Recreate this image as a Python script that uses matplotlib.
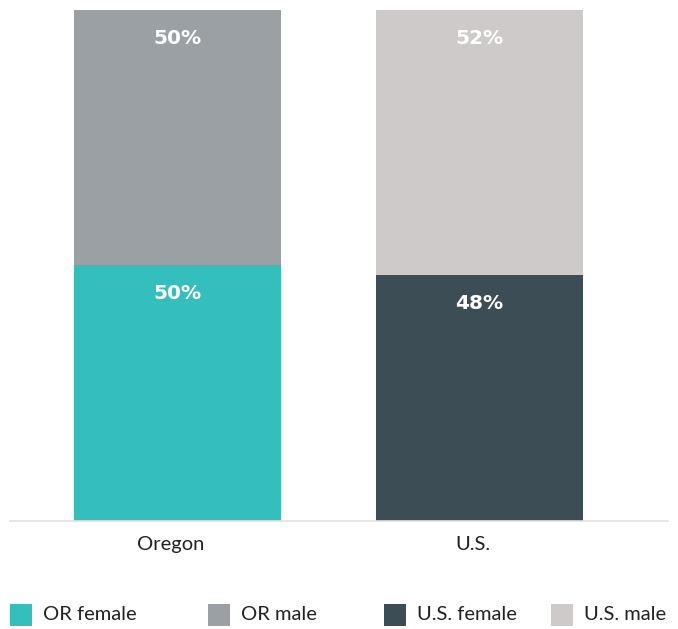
import matplotlib
matplotlib.use("Agg")
import matplotlib.pyplot as plt
from matplotlib.patches import Rectangle
from matplotlib.transforms import ScaledTranslation

# Share of population by sex
regions = ["Oregon", "U.S."]
female = [50, 48]
male = [50, 52]
female_colors = ["#35BFBC", "#3C4D56"]
male_colors = ["#9BA0A4", "#CECACA"]
legend_labels = ["OR female", "OR male", "U.S. female", "U.S. male"]
legend_colors = ["#35BFBC", "#9BA0A4", "#3C4D56", "#CECACA"]

W, H = 678, 629
fig = plt.figure(figsize=(W / 100, H / 100), dpi=100)

# axes box in pixel coordinates
left, right, top, bottom = 10, 668, 9.5, 521
ax = fig.add_axes([left / W, 1 - bottom / H, (right - left) / W, (bottom - top) / H])

x = [0, 1]
bar_w = 0.685
ax.bar(x, female, width=bar_w, color=female_colors)
ax.bar(x, male, width=bar_w, bottom=female, color=male_colors)

ax.set_xlim(-0.555, 1.624)
ax.set_ylim(0, 100)

# value labels near the top of each segment
px_per_unit = (bottom - top) / 100
offset = 28.5 / px_per_unit
for i in x:
    ax.text(i, female[i] - offset, f"{female[i]}%", ha="center", va="center",
            color="white", fontsize=14.5, fontweight="bold", family="DejaVu Sans")
    ax.text(i, female[i] + male[i] - offset, f"{male[i]}%", ha="center", va="center",
            color="white", fontsize=14.5, fontweight="bold", family="DejaVu Sans")

for s in ["top", "right", "left"]:
    ax.spines[s].set_visible(False)
ax.spines["bottom"].set_color("#E2E2E2")
ax.spines["bottom"].set_linewidth(1.2)
ax.set_yticks([])
ax.set_xticks(x)
ax.set_xticklabels(regions, family="Lato", fontsize=14.5, color="#222222")
ax.tick_params(axis="x", length=0, pad=11)
shift = ScaledTranslation(-7 / 100, 0, fig.dpi_scale_trans)
for lbl in ax.get_xticklabels():
    lbl.set_transform(lbl.get_transform() + shift)

# legend row along the bottom
sq_x = [10, 208, 384, 551]
sq = 22
sq_top = 604
for sx, lab, col in zip(sq_x, legend_labels, legend_colors):
    fig.add_artist(Rectangle((sx / W, 1 - (sq_top + sq) / H), sq / W, sq / H,
                             transform=fig.transFigure, color=col, lw=0))
    fig.text((sx + sq + 11) / W, 1 - (sq_top + sq / 2) / H, lab,
             ha="left", va="center", family="Lato", fontsize=14.5, color="#222222")

fig.savefig("out.png", dpi=100)
